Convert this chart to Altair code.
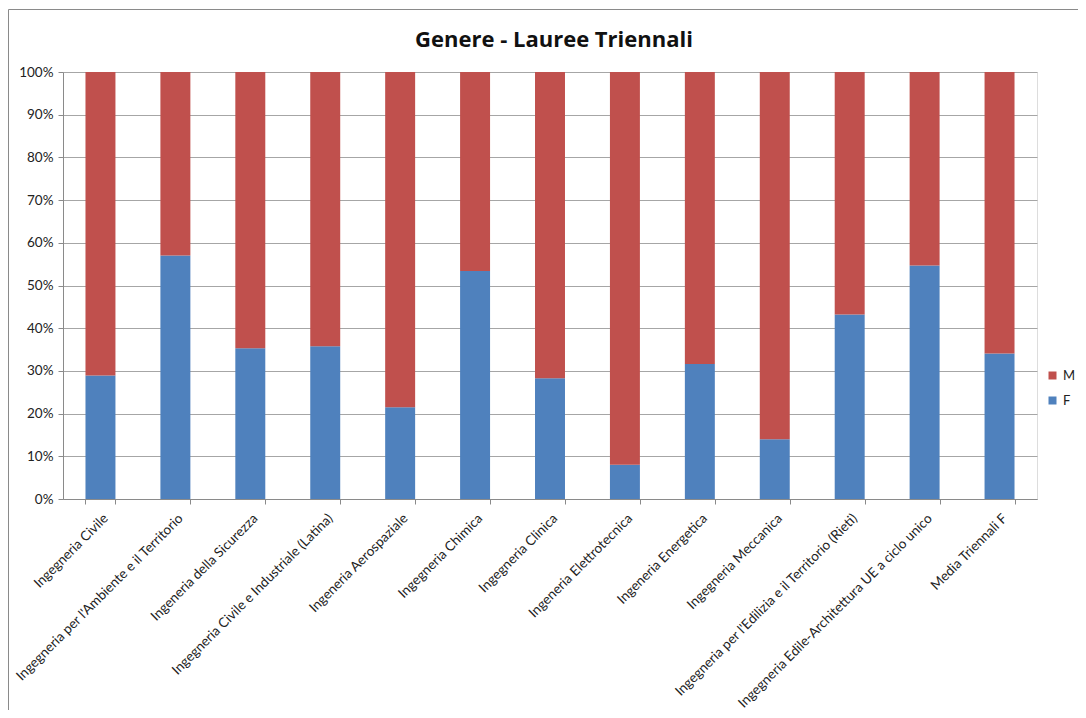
import altair as alt
import pandas as pd

title_text = "Genere - Lauree Triennali"
categories = [
    "Ingegneria Civile",
    "Ingegneria per l'Ambiente e il Territorio",
    "Ingeneria della Sicurezza",
    "Ingegneria Civile e Industriale  (Latina)",
    "Ingeneria Aerospaziale",
    "Ingegneria Chimica",
    "Ingegneria Clinica",
    "Ingeneria Elettrotecnica",
    "Ingeneria Energetica",
    "Ingegneria Meccanica",
    "Ingegneria per l'Edilizia e il Territorio (Rieti)",
    "Ingegneria Edile-Architettura UE a ciclo unico",
    "Media Triennali F",
]
female = [28.9, 57.0, 35.3, 35.8, 21.5, 53.4, 28.3, 8.0, 31.6, 14.0, 43.2, 54.7, 34.1]
male = [71.1, 43.0, 64.7, 64.2, 78.5, 46.6, 71.7, 92.0, 68.4, 86.0, 56.8, 45.3, 65.9]
series = ["M", "F"]
colors = ["#C0504D", "#4F81BD"]
y_ticks = [0, 0.1, 0.2, 0.3, 0.4, 0.5, 0.6, 0.7, 0.8, 0.9, 1.0]

rows = []
for c, f, m in zip(categories, female, male):
    rows.append({"corso": c, "genere": "F", "quota": f / 100, "ordine": 0})
    rows.append({"corso": c, "genere": "M", "quota": m / 100, "ordine": 1})
df = pd.DataFrame(rows)

FONT = "Lato"
W, H = 974, 427

bars = alt.Chart(df).mark_bar().encode(
    x=alt.X(
        "corso:N",
        sort=categories,
        title=None,
        scale=alt.Scale(paddingInner=0.6, paddingOuter=0.3),
        axis=alt.Axis(
            labelAngle=-45,
            labelFont=FONT,
            labelFontSize=13.5,
            labelColor="#222222",
            labelLimit=400,
            labelPadding=7,
            labelOverlap=False,
            tickBand="extent",
            tickColor="#8a8a8a",
            tickSize=5,
            domainColor="#8a8a8a",
            grid=False,
        ),
    ),
    y=alt.Y(
        "quota:Q",
        stack="zero",
        title=None,
        scale=alt.Scale(domain=[0, 1], nice=False),
        axis=alt.Axis(
            values=y_ticks,
            format=".0%",
            labelFont=FONT,
            labelFontSize=13.5,
            labelColor="#222222",
            labelPadding=5,
            tickColor="#8a8a8a",
            tickSize=5,
            domainColor="#8a8a8a",
            gridColor="#a6a6a6",
            gridWidth=1,
        ),
    ),
    color=alt.Color(
        "genere:N",
        scale=alt.Scale(domain=series, range=colors),
        legend=alt.Legend(
            title=None,
            orient="none",
            legendX=983,
            legendY=297,
            symbolType="square",
            symbolSize=64,
            symbolStrokeWidth=0,
            labelFont=FONT,
            labelFontSize=13,
            labelColor="#222222",
            rowPadding=11,
            labelOffset=4,
        ),
    ),
    order=alt.Order("ordine:Q", sort="ascending"),
)

frame = alt.Chart(pd.DataFrame({"k": [0]})).mark_rect(
    fill="transparent", stroke="#8a8a8a", strokeWidth=1
).encode(
    x=alt.value(-54.5),
    x2=alt.value(1100),
    y=alt.value(-62.5),
    y2=alt.value(700),
)

title = alt.Chart(pd.DataFrame({"t": [title_text]})).mark_text(
    font="Open Sans",
    fontSize=22,
    fontWeight="bold",
    color="#111111",
    align="center",
    baseline="alphabetic",
).encode(
    text="t:N",
    x=alt.value(491),
    y=alt.value(-25),
)

chart = (
    alt.layer(frame, bars, title)
    .properties(
        width=W,
        height=H,
        autosize=alt.AutoSizeParams(type="none"),
        padding={"left": 55, "top": 64, "right": 41, "bottom": 211},
    )
    .configure_view(strokeWidth=0, stroke="transparent")
    .configure(background="white")
)

chart.save("out.html", embed_options={"renderer": "svg", "actions": False})
